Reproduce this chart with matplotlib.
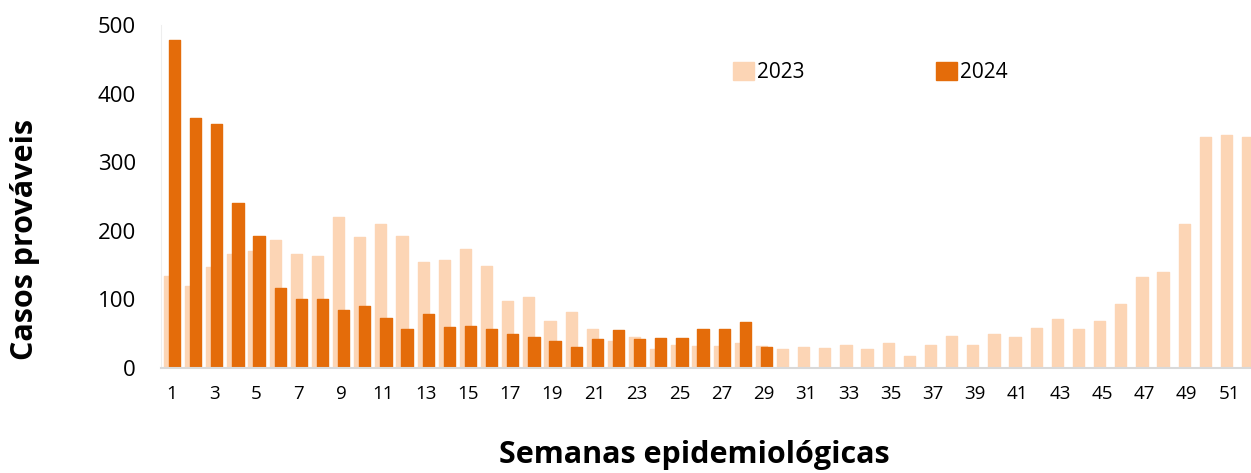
import numpy as np
import matplotlib
matplotlib.use('Agg')
import matplotlib.pyplot as plt

plt.rcParams['font.family'] = ['Open Sans', 'DejaVu Sans']

weeks_2023 = list(range(1, 53))
cases_2023 = [134, 120, 147, 166, 171, 186, 166, 163, 220, 191, 210, 193, 154,
              158, 173, 149, 97, 103, 68, 82, 57, 40, 45, 28, 33, 32, 32, 37,
              32, 28, 31, 29, 34, 27, 36, 18, 34, 47, 34, 50, 45, 58, 71, 57,
              69, 93, 132, 140, 210, 337, 340, 337]
weeks_2024 = list(range(1, 30))
cases_2024 = [478, 364, 356, 240, 192, 117, 100, 100, 84, 90, 73, 57, 78, 60,
              61, 57, 49, 45, 39, 30, 42, 56, 43, 44, 44, 57, 57, 67, 31]
xticks = list(range(1, 53, 2))

c23 = '#FCD5B5'
c24 = '#E46C0A'

fig = plt.figure(figsize=(12.51, 4.73), dpi=100)
ax = fig.add_axes([161 / 1251, 1 - 368 / 473, 1 - 161 / 1251, 343 / 473])

w = 0.53
off = 0.12
ax.bar(np.array(weeks_2023) - off, cases_2023, width=w, color=c23,
       edgecolor=c23, linewidth=1.0, joinstyle='round', label='2023', zorder=2)
ax.bar(np.array(weeks_2024) + off, cases_2024, width=w, color=c24,
       edgecolor=c24, linewidth=1.0, joinstyle='round', label='2024', zorder=3)

ax.set_xlim(0.48, 52.04)
ax.set_ylim(0, 500)
ax.set_yticks([0, 100, 200, 300, 400, 500])
ax.set_xticks(xticks)
ax.tick_params(axis='both', length=0)
ax.tick_params(axis='y', labelsize=16, pad=18)
ax.tick_params(axis='x', labelsize=13.5, pad=12)

for s in ['top', 'right']:
    ax.spines[s].set_visible(False)
ax.spines['left'].set_color('#eeeeee')
ax.spines['bottom'].set_color('#d9d9d9')
ax.spines['bottom'].set_linewidth(1.5)
ax.spines['bottom'].set_zorder(4)

fig.text(25.5 / 1251, 1 - 239.5 / 473, 'Casos prováveis', rotation=90,
         ha='center', va='center', fontsize=22, fontweight='bold')
fig.text(694.5 / 1251, 1 - 463 / 473, 'Semanas epidemiológicas',
         ha='center', va='baseline', fontsize=22, fontweight='bold')

leg = ax.legend(loc='center left', bbox_to_anchor=(733 / 1251, 1 - 72.5 / 473),
                bbox_transform=fig.transFigure, ncol=2, frameon=False,
                fontsize=15, handlelength=1.0, handleheight=1.0,
                handletextpad=0.15, columnspacing=6.3, borderpad=0,
                borderaxespad=0)

fig.savefig('out.png', dpi=100)
